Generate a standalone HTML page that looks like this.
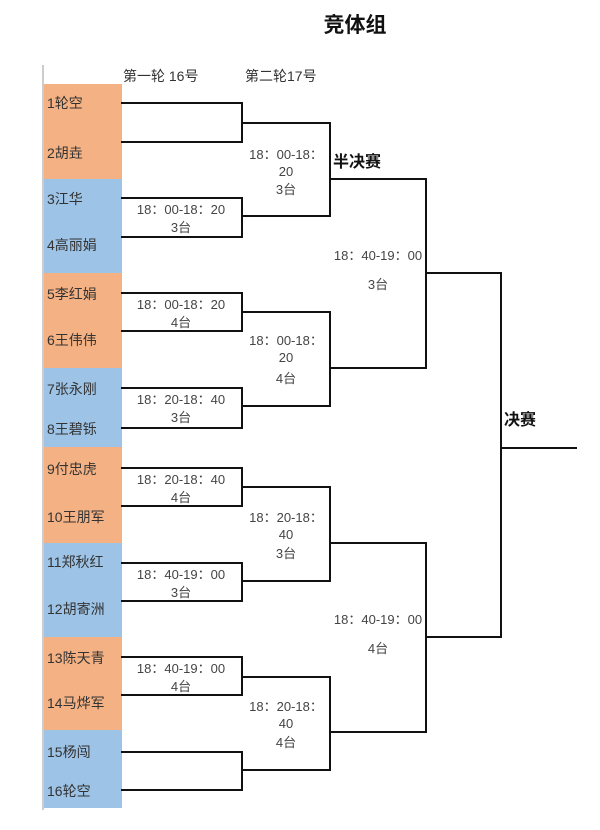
<!DOCTYPE html>
<html><head><meta charset="utf-8"><style>
html,body{margin:0;padding:0;background:#fff;}
svg{display:block;font-family:"Liberation Sans","Noto Sans CJK SC",sans-serif;}
.n{font-size:14px;fill:#333;}
.t{font-size:13px;fill:#444;text-anchor:middle;}
.l{stroke:#111;stroke-width:2;fill:none;}
</style></head><body>
<svg width="600" height="830" viewBox="0 0 600 830" xmlns="http://www.w3.org/2000/svg">
<text x="355" y="32" font-size="21" font-weight="bold" text-anchor="middle" fill="#111">竞体组</text>
<text x="123" y="81" font-size="14" fill="#333">第一轮 16号</text>
<text x="245" y="81" font-size="14" fill="#333">第二轮17号</text>
<line x1="43" y1="65" x2="43" y2="810" stroke="#ccc" stroke-width="2"/>
<rect x="44" y="84" width="78" height="95" fill="#F4B183"/>
<rect x="44" y="179" width="78" height="94" fill="#9DC3E6"/>
<rect x="44" y="273" width="78" height="95" fill="#F4B183"/>
<rect x="44" y="368" width="78" height="79" fill="#9DC3E6"/>
<rect x="44" y="447" width="78" height="96" fill="#F4B183"/>
<rect x="44" y="543" width="78" height="94" fill="#9DC3E6"/>
<rect x="44" y="637" width="78" height="93" fill="#F4B183"/>
<rect x="44" y="730" width="78" height="78" fill="#9DC3E6"/>
<g class="n">
<text x="47" y="108">1轮空</text><text x="47" y="158">2胡垚</text>
<text x="47" y="204">3江华</text><text x="47" y="250">4高丽娟</text>
<text x="47" y="299">5李红娟</text><text x="47" y="345">6王伟伟</text>
<text x="47" y="394">7张永刚</text><text x="47" y="434">8王碧铄</text>
<text x="47" y="474">9付忠虎</text><text x="47" y="522">10王朋军</text>
<text x="47" y="567">11郑秋红</text><text x="47" y="614">12胡寄洲</text>
<text x="47" y="663">13陈天青</text><text x="47" y="708">14马烨军</text>
<text x="47" y="757">15杨闯</text><text x="47" y="796">16轮空</text>
</g>
<g class="l">
<path d="M121 103H242V142H121"/>
<path d="M121 198H242V237H121"/>
<path d="M121 293H242V331H121"/>
<path d="M121 388H242V428H121"/>
<path d="M121 468H242V506H121"/>
<path d="M121 563H242V601H121"/>
<path d="M121 657H242V695H121"/>
<path d="M121 752H242V790H121"/>
<path d="M242 123H330V216H242"/>
<path d="M242 312H330V406H242"/>
<path d="M242 487H330V581H242"/>
<path d="M242 677H330V770H242"/>
<path d="M330 179H426V368H330"/>
<path d="M330 543H426V732H330"/>
<path d="M426 273H501V637H426"/>
<path d="M501 448H577"/>
</g>
<g class="t">
<text x="181" y="214">18：00-18：20</text><text x="181" y="232">3台</text>
<text x="181" y="309">18：00-18：20</text><text x="181" y="327">4台</text>
<text x="181" y="404">18：20-18：40</text><text x="181" y="422">3台</text>
<text x="181" y="484">18：20-18：40</text><text x="181" y="502">4台</text>
<text x="181" y="579">18：40-19：00</text><text x="181" y="597">3台</text>
<text x="181" y="673">18：40-19：00</text><text x="181" y="691">4台</text>
<text x="286" y="159">18：00-18：</text><text x="286" y="176">20</text><text x="286" y="194">3台</text>
<text x="286" y="345">18：00-18：</text><text x="286" y="362">20</text><text x="286" y="383">4台</text>
<text x="286" y="522">18：20-18：</text><text x="286" y="539">40</text><text x="286" y="558">3台</text>
<text x="286" y="711">18：20-18：</text><text x="286" y="728">40</text><text x="286" y="747">4台</text>
<text x="378" y="260">18：40-19：00</text><text x="378" y="289">3台</text>
<text x="378" y="624">18：40-19：00</text><text x="378" y="653">4台</text>
</g>
<text x="333" y="167" font-size="16" font-weight="bold" fill="#111">半决赛</text>
<text x="504" y="425" font-size="16" font-weight="bold" fill="#111">决赛</text>
</svg>
</body></html>
